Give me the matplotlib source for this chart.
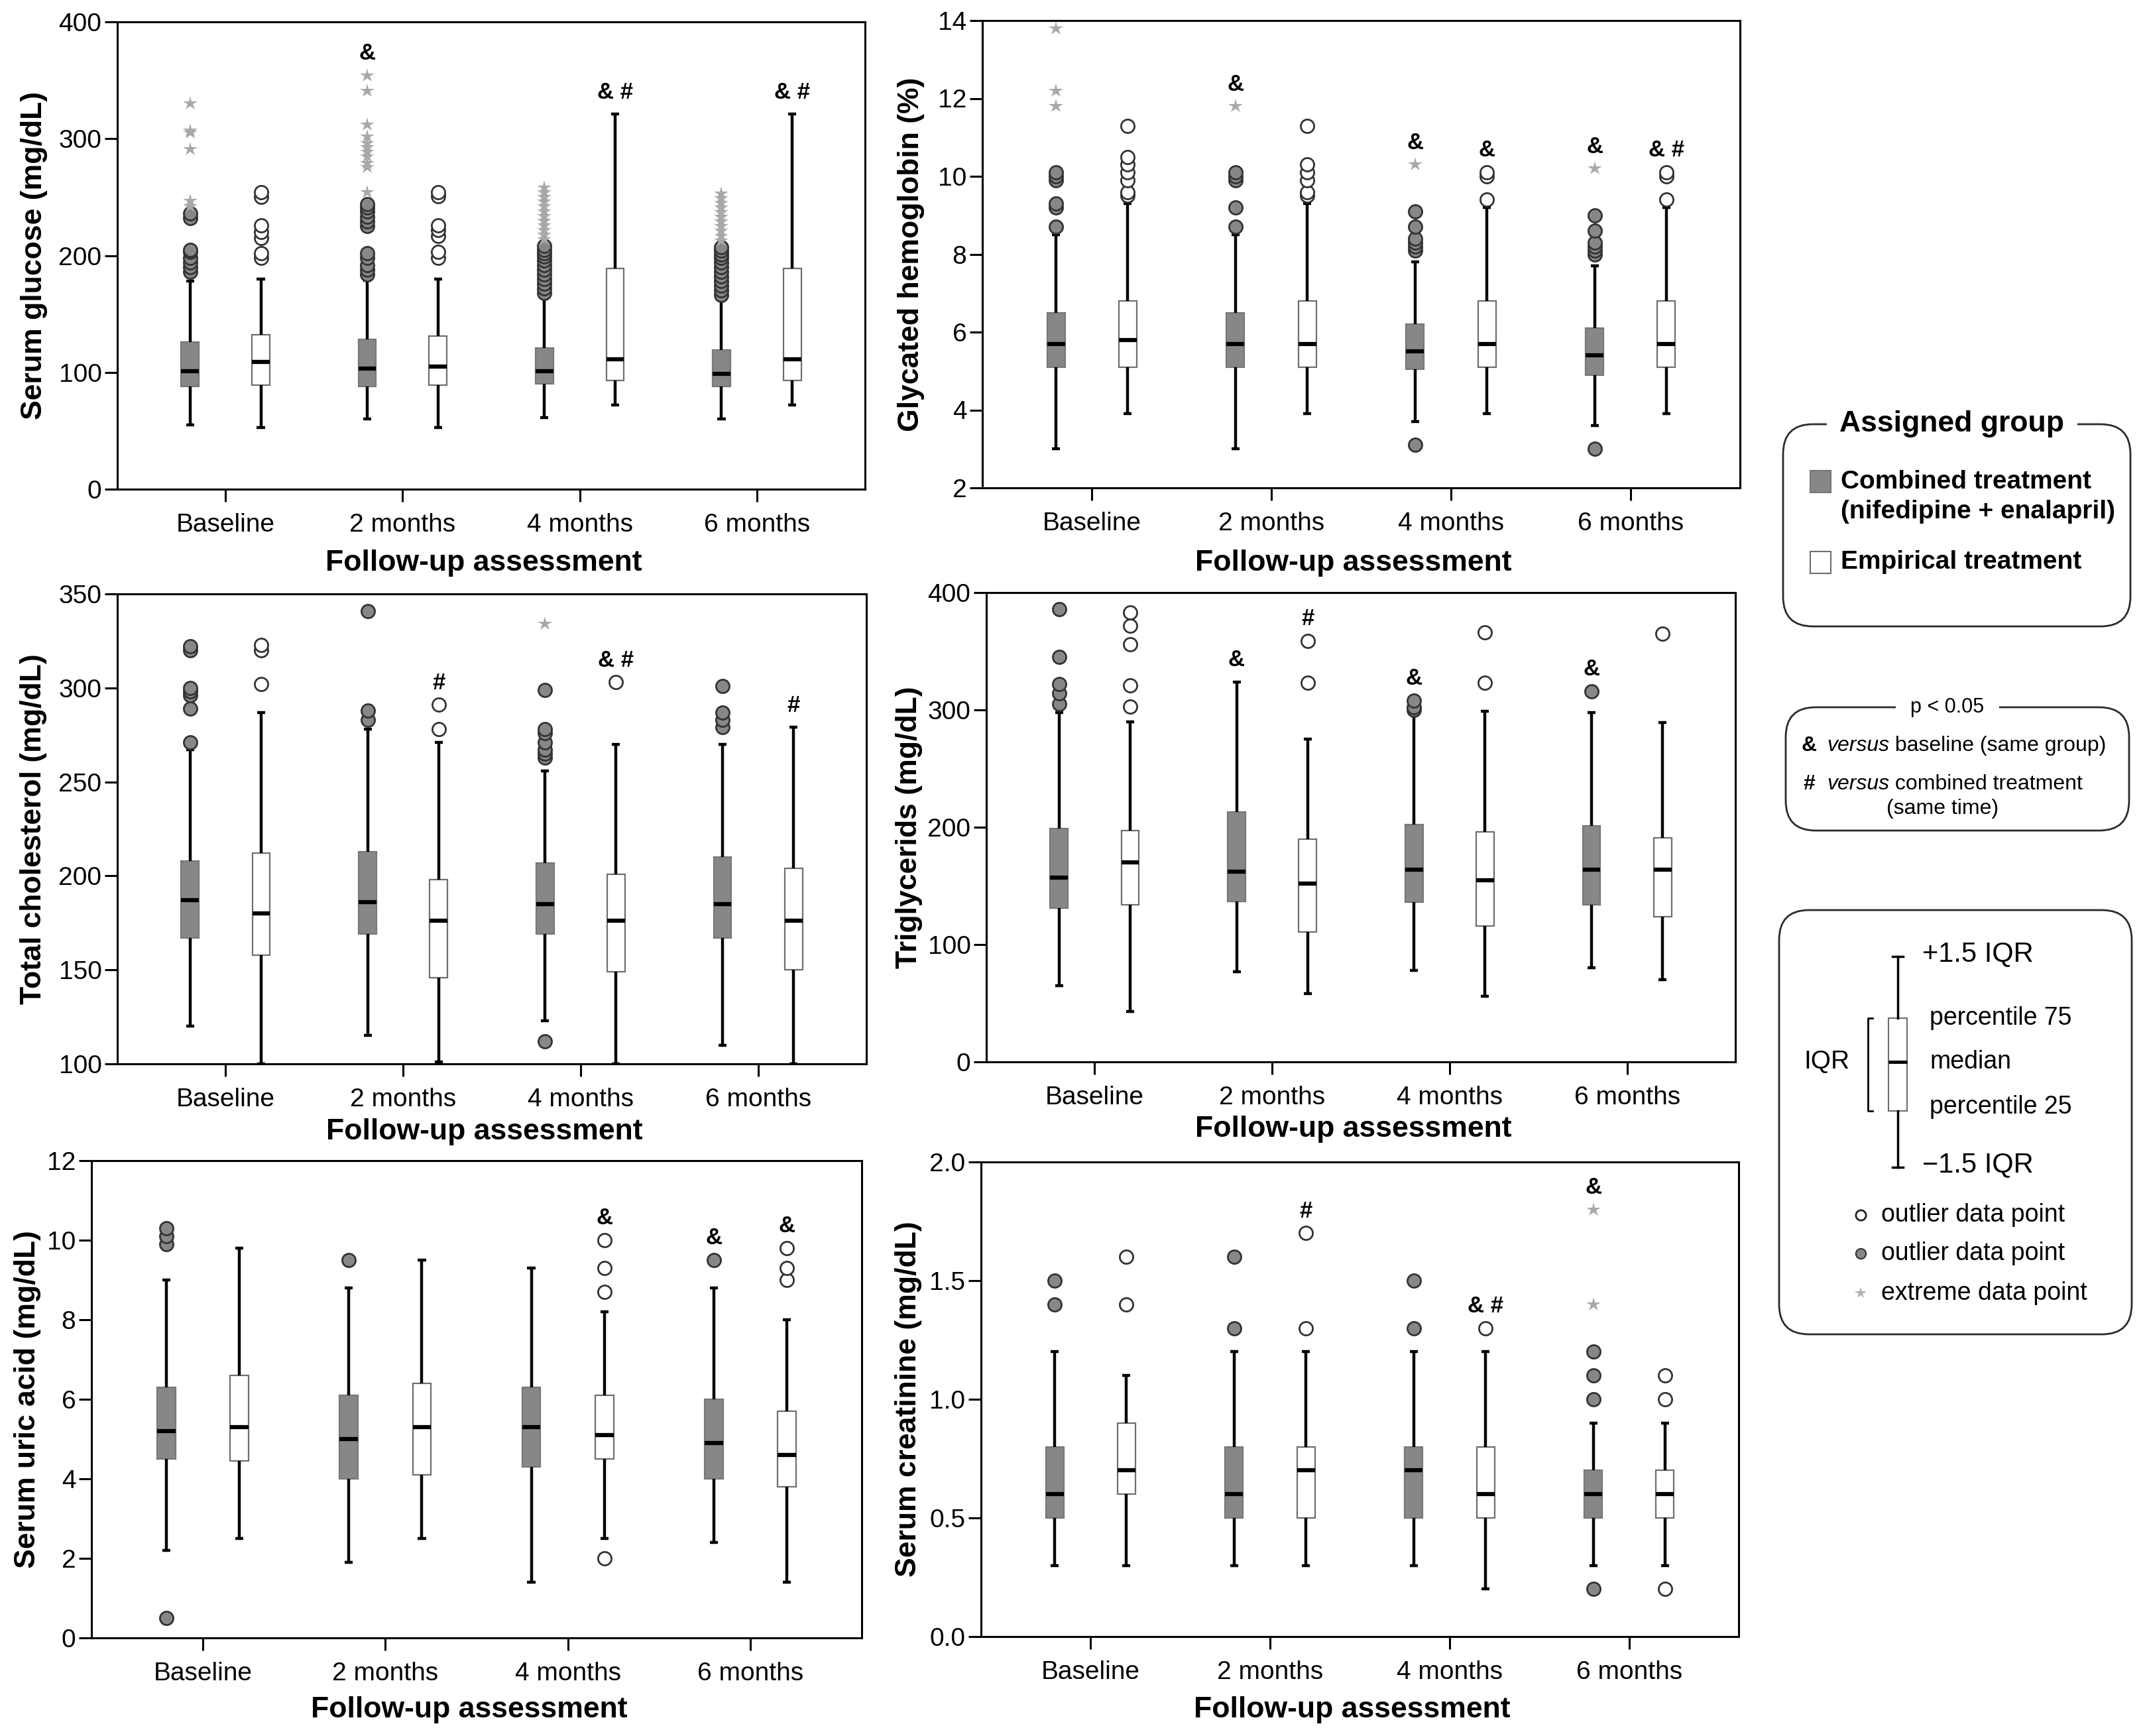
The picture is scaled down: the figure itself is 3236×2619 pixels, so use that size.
import matplotlib
matplotlib.use("Agg")
import matplotlib.pyplot as plt
from matplotlib.patches import FancyBboxPatch, Rectangle

plt.rcParams['font.family'] = ['Liberation Sans', 'DejaVu Sans']

W, H = 3237, 2619
times = ["Baseline", "2 months", "4 months", "6 months"]
group_names = ["Combined treatment", "(nifedipine + enalapril)", "Empirical treatment"]

# ---- serum glucose (mg/dL)
glu_c_q1 = [88, 88, 90, 88]
glu_c_med = [101, 103, 101, 99]
glu_c_q3 = [126, 128, 121, 119]
glu_c_lo = [55, 60, 61, 60]
glu_c_hi = [178, 179, 165, 163]
glu_c_out = [[186, 190, 194, 198, 203, 205, 232, 236],
             [184, 188, 192, 198, 202, 225, 229, 233, 238, 241, 244],
             [168, 172, 176, 180, 184, 188, 192, 196, 199, 202, 205, 208],
             [166, 170, 174, 178, 182, 186, 190, 194, 198, 201, 204, 207]]
glu_c_ext = [[242, 247, 291, 305, 307, 330],
             [254, 276, 279, 285, 289, 293, 296, 302, 312, 341, 354],
             [214, 218, 222, 226, 230, 234, 238, 242, 246, 250, 254, 258],
             [213, 217, 221, 225, 229, 233, 237, 241, 245, 249, 253]]
glu_c_sig = ["", "&", "", ""]
glu_e_q1 = [89, 89, 93, 93]
glu_e_med = [109, 105, 111, 111]
glu_e_q3 = [132, 131, 189, 189]
glu_e_lo = [53, 53, 72, 72]
glu_e_hi = [180, 180, 321, 321]
glu_e_out = [[198, 202, 215, 220, 226, 250, 254], [198, 203, 217, 222, 226, 251, 254], [], []]
glu_e_ext = [[], [], [], []]
glu_e_sig = ["", "", "&#", "&#"]

# ---- glycated hemoglobin (%)
hb_c_q1 = [5.1, 5.1, 5.05, 4.9]
hb_c_med = [5.7, 5.7, 5.5, 5.4]
hb_c_q3 = [6.5, 6.5, 6.2, 6.1]
hb_c_lo = [3.0, 3.0, 3.7, 3.6]
hb_c_hi = [8.5, 8.5, 7.8, 7.7]
hb_c_out = [[8.7, 9.2, 9.3, 9.9, 10.0, 10.1], [8.7, 9.2, 9.9, 10.0, 10.1],
            [3.1, 8.1, 8.2, 8.3, 8.4, 8.7, 9.1], [3.0, 8.0, 8.1, 8.2, 8.3, 8.6, 9.0]]
hb_c_ext = [[11.8, 12.2, 13.8], [11.8], [10.3], [10.2]]
hb_c_sig = ["", "&", "&", "&"]
hb_e_q1 = [5.1, 5.1, 5.1, 5.1]
hb_e_med = [5.8, 5.7, 5.7, 5.7]
hb_e_q3 = [6.8, 6.8, 6.8, 6.8]
hb_e_lo = [3.9, 3.9, 3.9, 3.9]
hb_e_hi = [9.3, 9.3, 9.2, 9.2]
hb_e_out = [[9.5, 9.6, 9.9, 10.1, 10.3, 10.5, 11.3], [9.5, 9.6, 9.9, 10.1, 10.3, 11.3],
            [9.4, 10.0, 10.1], [9.4, 10.0, 10.1]]
hb_e_ext = [[], [], [], []]
hb_e_sig = ["", "", "&", "&#"]

# ---- total cholesterol (mg/dL)
ch_c_q1 = [167, 169, 169, 167]
ch_c_med = [187, 186, 185, 185]
ch_c_q3 = [208, 213, 207, 210]
ch_c_lo = [120, 115, 123, 110]
ch_c_hi = [267, 278, 256, 270]
ch_c_out = [[271, 289, 296, 298, 300, 320, 322], [283, 288, 341],
            [112, 263, 265, 267, 271, 276, 278, 299], [279, 283, 287, 301]]
ch_c_ext = [[], [], [334], []]
ch_c_sig = ["", "", "", ""]
ch_e_q1 = [158, 146, 149, 150]
ch_e_med = [180, 176, 176, 176]
ch_e_q3 = [212, 198, 201, 204]
ch_e_lo = [100, 101, 100, 100]
ch_e_hi = [287, 271, 270, 279]
ch_e_out = [[302, 320, 323], [278, 291], [303], []]
ch_e_ext = [[], [], [], []]
ch_e_sig = ["", "#", "&#", "#"]

# ---- triglycerids (mg/dL)
tg_c_q1 = [131, 137, 136, 134]
tg_c_med = [157, 162, 164, 164]
tg_c_q3 = [199, 213, 202, 201]
tg_c_lo = [65, 77, 78, 80]
tg_c_hi = [298, 324, 296, 298]
tg_c_out = [[305, 314, 322, 345, 386], [], [300, 302, 308], [316]]
tg_c_ext = [[], [], [], []]
tg_c_sig = ["", "&", "&", "&"]
tg_e_q1 = [134, 111, 116, 124]
tg_e_med = [170, 152, 155, 164]
tg_e_q3 = [197, 190, 196, 191]
tg_e_lo = [43, 58, 56, 70]
tg_e_hi = [290, 275, 299, 289]
tg_e_out = [[303, 321, 356, 372, 383], [323, 359], [323, 366], [365]]
tg_e_ext = [[], [], [], []]
tg_e_sig = ["", "#", "", ""]

# ---- serum uric acid (mg/dL)
ua_c_q1 = [4.5, 4.0, 4.3, 4.0]
ua_c_med = [5.2, 5.0, 5.3, 4.9]
ua_c_q3 = [6.3, 6.1, 6.3, 6.0]
ua_c_lo = [2.2, 1.9, 1.4, 2.4]
ua_c_hi = [9.0, 8.8, 9.3, 8.8]
ua_c_out = [[0.5, 9.9, 10.1, 10.3], [9.5], [], [9.5]]
ua_c_ext = [[], [], [], []]
ua_c_sig = ["", "", "", "&"]
ua_e_q1 = [4.45, 4.1, 4.5, 3.8]
ua_e_med = [5.3, 5.3, 5.1, 4.6]
ua_e_q3 = [6.6, 6.4, 6.1, 5.7]
ua_e_lo = [2.5, 2.5, 2.5, 1.4]
ua_e_hi = [9.8, 9.5, 8.2, 8.0]
ua_e_out = [[], [], [2.0, 8.7, 9.3, 10.0], [9.0, 9.3, 9.8]]
ua_e_ext = [[], [], [], []]
ua_e_sig = ["", "", "&", "&"]

# ---- serum creatinine (mg/dL)
cr_c_q1 = [0.5, 0.5, 0.5, 0.5]
cr_c_med = [0.6, 0.6, 0.7, 0.6]
cr_c_q3 = [0.8, 0.8, 0.8, 0.7]
cr_c_lo = [0.3, 0.3, 0.3, 0.3]
cr_c_hi = [1.2, 1.2, 1.2, 0.9]
cr_c_out = [[1.4, 1.5], [1.3, 1.6], [1.3, 1.5], [0.2, 1.0, 1.1, 1.2]]
cr_c_ext = [[], [], [], [1.4, 1.8]]
cr_c_sig = ["", "", "", "&"]
cr_e_q1 = [0.6, 0.5, 0.5, 0.5]
cr_e_med = [0.7, 0.7, 0.6, 0.6]
cr_e_q3 = [0.9, 0.8, 0.8, 0.7]
cr_e_lo = [0.3, 0.3, 0.2, 0.3]
cr_e_hi = [1.1, 1.2, 1.2, 0.9]
cr_e_out = [[1.4, 1.6], [1.3, 1.7], [1.3], [0.2, 1.0, 1.1]]
cr_e_ext = [[], [], [], []]
cr_e_sig = ["", "#", "&#", ""]

panels = [
    dict(ylabel="Serum glucose (mg/dL)", ylim=(0, 400), yticks=[0, 100, 200, 300, 400], fmt="{:.0f}",
         comb=(glu_c_q1, glu_c_med, glu_c_q3, glu_c_lo, glu_c_hi, glu_c_out, glu_c_ext, glu_c_sig),
         emp=(glu_e_q1, glu_e_med, glu_e_q3, glu_e_lo, glu_e_hi, glu_e_out, glu_e_ext, glu_e_sig),
         box=(177, 33, 1305, 738, -125, 112)),
    dict(ylabel="Glycated hemoglobin (%)", ylim=(2, 14), yticks=[2, 4, 6, 8, 10, 12, 14], fmt="{:.0f}",
         comb=(hb_c_q1, hb_c_med, hb_c_q3, hb_c_lo, hb_c_hi, hb_c_out, hb_c_ext, hb_c_sig),
         emp=(hb_e_q1, hb_e_med, hb_e_q3, hb_e_lo, hb_e_hi, hb_e_out, hb_e_ext, hb_e_sig),
         box=(1482, 31, 2625, 736, -107, 114)),
    dict(ylabel="Total cholesterol (mg/dL)", ylim=(100, 350), yticks=[100, 150, 200, 250, 300, 350], fmt="{:.0f}",
         comb=(ch_c_q1, ch_c_med, ch_c_q3, ch_c_lo, ch_c_hi, ch_c_out, ch_c_ext, ch_c_sig),
         emp=(ch_e_q1, ch_e_med, ch_e_q3, ch_e_lo, ch_e_hi, ch_e_out, ch_e_ext, ch_e_sig),
         box=(177, 896, 1307, 1605, -126, 102)),
    dict(ylabel="Triglycerids (mg/dL)", ylim=(0, 400), yticks=[0, 100, 200, 300, 400], fmt="{:.0f}",
         comb=(tg_c_q1, tg_c_med, tg_c_q3, tg_c_lo, tg_c_hi, tg_c_out, tg_c_ext, tg_c_sig),
         emp=(tg_e_q1, tg_e_med, tg_e_q3, tg_e_lo, tg_e_hi, tg_e_out, tg_e_ext, tg_e_sig),
         box=(1488, 894, 2618, 1602, -116, 102)),
    dict(ylabel="Serum uric acid (mg/dL)", ylim=(0, 12), yticks=[0, 2, 4, 6, 8, 10, 12], fmt="{:.0f}",
         comb=(ua_c_q1, ua_c_med, ua_c_q3, ua_c_lo, ua_c_hi, ua_c_out, ua_c_ext, ua_c_sig),
         emp=(ua_e_q1, ua_e_med, ua_e_q3, ua_e_lo, ua_e_hi, ua_e_out, ua_e_ext, ua_e_sig),
         box=(138, 1751, 1300, 2471, -96, 108)),
    dict(ylabel="Serum creatinine (mg/dL)", ylim=(0, 2), yticks=[0, 0.5, 1.0, 1.5, 2.0], fmt="{:.1f}",
         comb=(cr_c_q1, cr_c_med, cr_c_q3, cr_c_lo, cr_c_hi, cr_c_out, cr_c_ext, cr_c_sig),
         emp=(cr_e_q1, cr_e_med, cr_e_q3, cr_e_lo, cr_e_hi, cr_e_out, cr_e_ext, cr_e_sig),
         box=(1480, 1753, 2623, 2469, -109, 110)),
]

COMB_FACE = '#878787'
COMB_EDGE = '#777777'
EMP_EDGE = '#6e6e6e'


def draw_group(ax, pos, data, face, edge, oface):
    q1, med, q3, lo, hi, out, ext, sig = data
    st = [dict(q1=a, med=m, q3=b, whislo=l, whishi=h, fliers=[])
          for a, m, b, l, h in zip(q1, med, q3, lo, hi)]
    ax.bxp(st, positions=pos, widths=0.1, capwidths=0.045, patch_artist=True,
           showfliers=False, manage_ticks=False,
           boxprops=dict(facecolor=face, edgecolor=edge, linewidth=1.6),
           whiskerprops=dict(color='black', linewidth=3.2, solid_capstyle='butt'),
           capprops=dict(color='black', linewidth=3.2, solid_capstyle='butt'),
           medianprops=dict(color='black', linewidth=4.5, solid_capstyle='butt'))
    for p, o, e, s, h in zip(pos, out, ext, sig, hi):
        ax.plot([p] * len(o), o, 'o', ms=14.5, mfc=oface, mec='#333333', mew=2,
                ls='none', zorder=4)
        ax.plot([p] * len(e), e, '*', ms=16, color='#a8a8a8', mew=0, ls='none', zorder=4)
        if s:
            top = max([h] + list(o) + list(e))
            ax.annotate(s.replace("&#", "& #"), (p, top), xytext=(0, 12),
                        textcoords='offset points', ha='center', va='bottom',
                        fontsize=25, fontweight='bold')


fig = plt.figure(figsize=(W / 100, H / 100), dpi=100)
fig.patch.set_facecolor('white')

x = [1, 2, 3, 4]
for pn in panels:
    l, t, r, b, ydx, xdy = pn['box']
    ax = fig.add_axes([l / W, 1 - b / H, (r - l) / W, (b - t) / H])
    draw_group(ax, [v - 0.2 for v in x], pn['comb'], COMB_FACE, COMB_EDGE, COMB_FACE)
    draw_group(ax, [v + 0.2 for v in x], pn['emp'], 'white', EMP_EDGE, 'white')
    ax.set_xlim(0.39, 4.61)
    ax.set_ylim(*pn['ylim'])
    ax.set_xticks(x)
    ax.set_xticklabels(times)
    ax.set_yticks(pn['yticks'])
    ax.set_yticklabels([pn['fmt'].format(v) for v in pn['yticks']])
    ax.tick_params(axis='both', direction='out', length=14, width=2.2, labelsize=28,
                   top=False, right=False)
    ax.tick_params(axis='x', pad=12)
    ax.tick_params(axis='y', pad=3)
    for sp in ax.spines.values():
        sp.set_linewidth(2.2)
    ax.set_ylabel(pn['ylabel'], fontsize=32, fontweight='bold', va='center')
    ax.yaxis.set_label_coords(ydx / (r - l), 0.5)
    ax.set_xlabel("Follow-up assessment", fontsize=32, fontweight='bold', va='center')
    ax.xaxis.set_label_coords(0.49, -xdy / (b - t))

# ---- legend boxes (drawn on a pixel-space overlay)
ov = fig.add_axes([0, 0, 1, 1])
ov.set_xlim(0, W)
ov.set_ylim(H, 0)
ov.axis('off')


def rbox(x0, y0, x1, y1):
    ov.add_patch(FancyBboxPatch((x0, y0), x1 - x0, y1 - y0,
                                boxstyle="round,pad=0,rounding_size=45",
                                fc='none', ec='#2b2b2b', lw=2))


rbox(2690, 640, 3214, 945)
ov.text(2945, 640, "Assigned group", ha='center', va='center', fontsize=32,
        fontweight='bold', bbox=dict(fc='white', ec='none', pad=14))
ov.add_patch(Rectangle((2731, 710), 31, 33, fc=COMB_FACE, ec=COMB_EDGE, lw=1.5))
ov.add_patch(Rectangle((2731, 832), 31, 33, fc='white', ec=EMP_EDGE, lw=1.5))
ov.text(2777, 727, group_names[0], ha='left', va='center', fontsize=28, fontweight='bold')
ov.text(2777, 772, group_names[1], ha='left', va='center', fontsize=28, fontweight='bold')
ov.text(2777, 848, group_names[2], ha='left', va='center', fontsize=28, fontweight='bold')

rbox(2694, 1067, 3212, 1253)
ov.text(2938, 1067, "p < 0.05", ha='center', va='center', fontsize=22,
        bbox=dict(fc='white', ec='none', pad=16))
for sym, rest, yy in [("&", " baseline (same group)", 1125), ("#", " combined treatment", 1183)]:
    ov.text(2729, yy, sym, ha='center', va='center', fontsize=23, fontweight='bold')
    t1 = ov.text(2756, yy, "versus", ha='left', va='center', fontsize=23, style='italic')
    ov.annotate(rest, xy=(1, 0), xycoords=t1, ha='left', va='bottom', fontsize=23)
ov.text(2931, 1220, "(same time)", ha='center', va='center', fontsize=23)

rbox(2684, 1373, 3216, 2013)
bx, bw = 2863, 28
ov.add_patch(Rectangle((bx - bw / 2, 1536), bw, 1676 - 1536, fc='white', ec=EMP_EDGE, lw=1.5))
ov.plot([bx - bw / 2, bx + bw / 2], [1602, 1602], color='black', lw=3.5, solid_capstyle='butt')
ov.plot([bx, bx], [1443, 1536], color='black', lw=2.5)
ov.plot([bx, bx], [1676, 1761], color='black', lw=2.5)
ov.plot([bx - 8, bx + 8], [1443, 1443], color='black', lw=2.5)
ov.plot([bx - 8, bx + 8], [1761, 1761], color='black', lw=2.5)
ov.plot([2825, 2818, 2818, 2825], [1536, 1536, 1676, 1676], color='black', lw=2)
ov.text(2756, 1602, "IQR", ha='center', va='center', fontsize=28)
ov.text(2900, 1439, "+1.5 IQR", ha='left', va='center', fontsize=30)
ov.text(2911, 1536, "percentile 75", ha='left', va='center', fontsize=27)
ov.text(2911, 1602, "median", ha='left', va='center', fontsize=27)
ov.text(2911, 1670, "percentile 25", ha='left', va='center', fontsize=27)
ov.text(2900, 1757, "\u22121.5 IQR", ha='left', va='center', fontsize=30)
ov.plot([2807], [1833], 'o', ms=11, mfc='white', mec='#222222', mew=2)
ov.plot([2807], [1891], 'o', ms=11, mfc=COMB_FACE, mec='#333333', mew=1.5)
ov.plot([2807], [1951], '*', ms=13, color='#b0b0b0', mew=0)
ov.text(2838, 1833, "outlier data point", ha='left', va='center', fontsize=27)
ov.text(2838, 1891, "outlier data point", ha='left', va='center', fontsize=27)
ov.text(2838, 1951, "extreme data point", ha='left', va='center', fontsize=27)

fig.savefig('out.png', dpi=100)
